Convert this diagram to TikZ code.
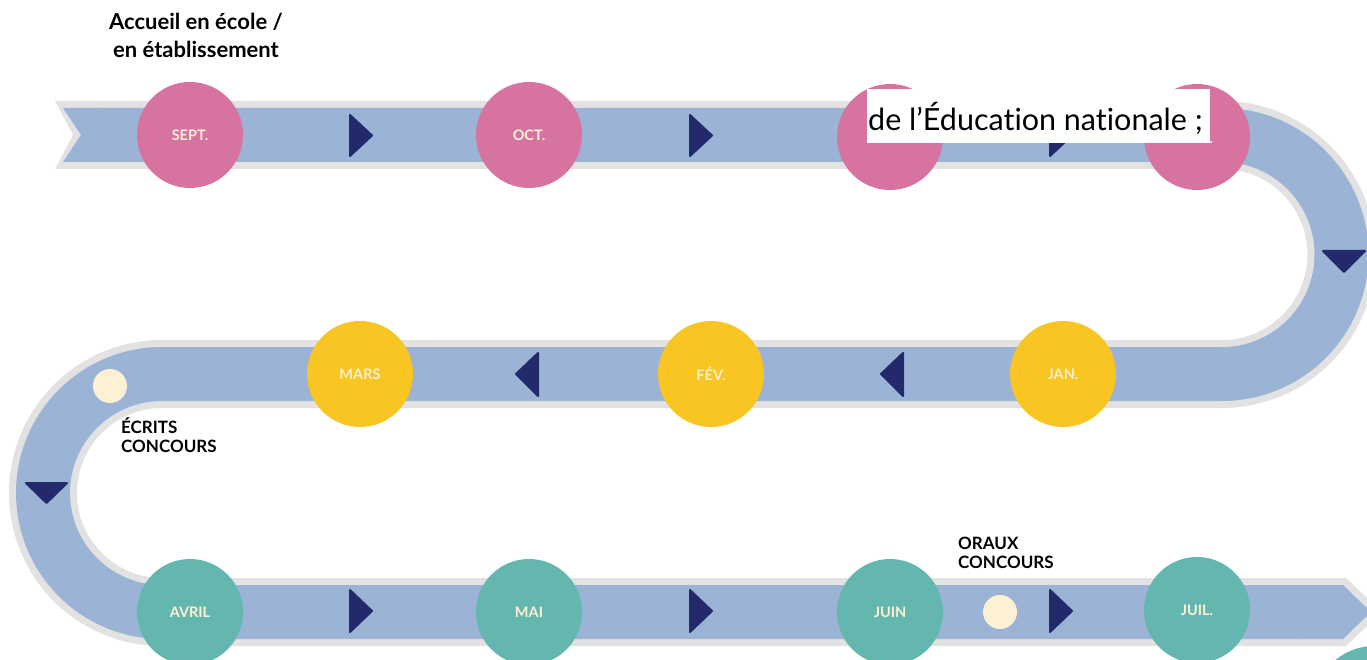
\documentclass[tikz,border=0pt]{standalone}
\usepackage{fontspec}
\setmainfont{Lato}[Ligatures=NoCommon]
\definecolor{bandblue}{HTML}{9BB3D4}
\definecolor{bordergray}{HTML}{E2E2E2}
\definecolor{mpink}{HTML}{D773A1}
\definecolor{myellow}{HTML}{F8C523}
\definecolor{mteal}{HTML}{63B7AF}
\definecolor{navy}{HTML}{24296B}
\definecolor{cream}{HTML}{FDF1D4}
\definecolor{monthtext}{HTML}{FDF0D2}
\begin{document}
\begin{tikzpicture}[x=1pt,y=-1pt,
  month/.style={circle,inner sep=0pt,minimum size=106pt,font=\bfseries\fontsize{14.5}{14.5}\selectfont,text=monthtext},
  pinkm/.style={month,fill=mpink},
  yellowm/.style={month,fill=myellow},
  tealm/.style={month,fill=mteal},
  dotm/.style={circle,inner sep=0pt,minimum size=34pt,fill=cream},
  arrowtri/.style={fill=navy,draw=navy,line width=2pt,line join=round},
  smalllabel/.style={font=\bfseries\fontsize{17}{18.5}\selectfont,align=left,inner sep=0pt},
  toplabel/.style={font=\bfseries\fontsize{22}{28}\selectfont,align=center,inner sep=0pt}
]
\useasboundingbox (0,0) rectangle (1367,660);
\clip (0,0) rectangle (1367,660);
% band border
\draw[line width=68pt,bordergray] (95,135) -- (1222,135) arc[start angle=-90,end angle=90,radius=119.5] -- (162,374) arc[start angle=-90,end angle=-270,radius=119] -- (1305,612);
\fill[bordergray] (55,101) -- (100,101) -- (100,169) -- (55,169) -- (73,135) -- cycle;
\fill[bordergray] (1300,578) -- (1346,578) -- (1382,612) -- (1346,646) -- (1300,646) -- cycle;
% band
\draw[line width=54pt,bandblue] (95,135) -- (1222,135) arc[start angle=-90,end angle=90,radius=119.5] -- (162,374) arc[start angle=-90,end angle=-270,radius=119] -- (1305,612);
\fill[bandblue] (63,108) -- (100,108) -- (100,162) -- (63,162) -- (81,135) -- cycle;
\fill[bandblue] (1300,585) -- (1343,585) -- (1371,612) -- (1343,639) -- (1300,639) -- cycle;
% arrows row 1
\foreach \ax in {350,690,1050}{
  \draw[arrowtri] (\ax,115) -- (\ax+22,135.5) -- (\ax,156) -- cycle;
}
% arrows row 2
\foreach \ax in {538,903}{
  \draw[arrowtri] (\ax,353) -- (\ax-22,374) -- (\ax,396) -- cycle;
}
% arrows row 3
\foreach \ax in {350,690,1050}{
  \draw[arrowtri] (\ax,590) -- (\ax+22,611) -- (\ax,632) -- cycle;
}
% down arrows on curves
\draw[arrowtri] (1323,251) -- (1365,251) -- (1344,272) -- cycle;
\draw[arrowtri] (26,483) -- (67,483) -- (46.5,503) -- cycle;
% dots
\node[dotm] (ecritsdot) at (110,386) {};
\node[dotm] (orauxdot) at (1000,612) {};
% months
\node[pinkm] (sept) at (190,135) {SEPT.};
\node[pinkm] (oct) at (529,135) {OCT.};
\node[pinkm] (nov) at (890,137) {NOV.};
\node[pinkm] (dec) at (1197,137) {DÉC.};
\node[yellowm] (jan) at (1063,374) {JAN.};
\node[yellowm] (fev) at (711,374) {FÉV.};
\node[yellowm] (mars) at (360,374) {MARS};
\node[tealm] (avril) at (190,612) {AVRIL};
\node[tealm] (mai) at (529,612) {MAI};
\node[tealm] (juin) at (890,612) {JUIN};
\node[tealm] (juil) at (1197,610) {JUIL.};
\node[circle,inner sep=0pt,minimum size=120pt,fill=mteal] (next) at (1374,706) {};
% labels
\node[toplabel,anchor=base] (accueil) at (196,58) {Accueil en école /\\en établissement};
\node[smalllabel,anchor=base west] (ecrits) at (121,452) {ÉCRITS\\CONCOURS};
\node[smalllabel,anchor=base west] (oraux) at (958,568) {ORAUX\\CONCOURS};
% white overlay box
\node[fill=white,anchor=north west,minimum width=343pt,minimum height=54pt,inner sep=0pt] (box) at (867,89) {};
\node[anchor=base west,inner sep=0pt,font=\fontsize{30.5}{30.5}\selectfont] (educ) at (868,131) {de l’Éducation nationale ;};
\end{tikzpicture}
\end{document}
